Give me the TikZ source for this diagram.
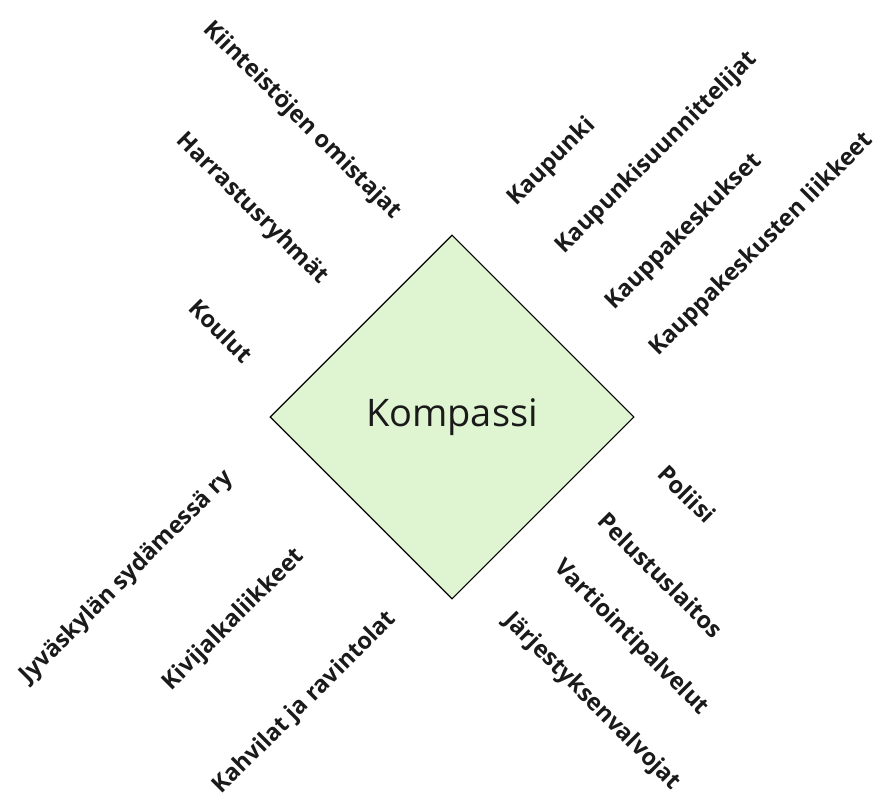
\documentclass[tikz,border=0pt]{standalone}
\usepackage{fontspec}
\setmainfont{Open Sans}
\usetikzlibrary{shapes.geometric}
\definecolor{ink}{HTML}{1A1A1A}
\definecolor{leaf}{HTML}{DFF5D1}
\begin{document}
\begin{tikzpicture}[x=1pt,y=-1pt,
  lbl/.style={font=\bfseries\fontsize{23.5}{28}\selectfont, text=ink, inner sep=0pt, anchor=center},
  down/.style={lbl, rotate=-45},
  up/.style={lbl, rotate=45},
  core/.style={diamond, draw=black, line width=1.1pt, fill=leaf, aspect=1,
    minimum width=364pt, minimum height=364pt, inner sep=0pt,
    font=\fontsize{38}{42}\selectfont, text=ink}]
\useasboundingbox (0,0) rectangle (881,799);

% central element
\node[core] (kompassi) at (452,417) {Kompassi};

% upper left group
\node[down] (kiinteisto) at (302,121) {Kiinteistöjen omistajat};
\node[down] (harrastus) at (252,209) {Harrastusryhmät};
\node[down] (koulut) at (221,331) {Koulut};

% upper right group
\node[up] (kaupunki) at (552,162) {Kaupunki};
\node[up] (suunnittelijat) at (657,153) {Kaupunkisuunnittelijat};
\node[up] (keskukset) at (684,232) {Kauppakeskukset};
\node[up] (liikkeet) at (762,245) {Kauppakeskusten liikkeet};

% lower right group
\node[down] (poliisi) at (687,494) {Poliisi};
\node[down] (pelastus) at (661,575) {Pelustuslaitos};
\node[down] (vartiointi) at (631,638) {Vartiointipalvelut};
\node[down] (jarjestys) at (592,702) {Järjestyksenvalvojat};

% lower left group
\node[up] (jyvaskyla) at (127,577) {Jyväskylän sydämessä ry};
\node[up] (kivijalka) at (234,620) {Kivijalkaliikkeet};
\node[up] (kahvilat) at (305,703) {Kahvilat ja ravintolat};
\end{tikzpicture}
\end{document}
